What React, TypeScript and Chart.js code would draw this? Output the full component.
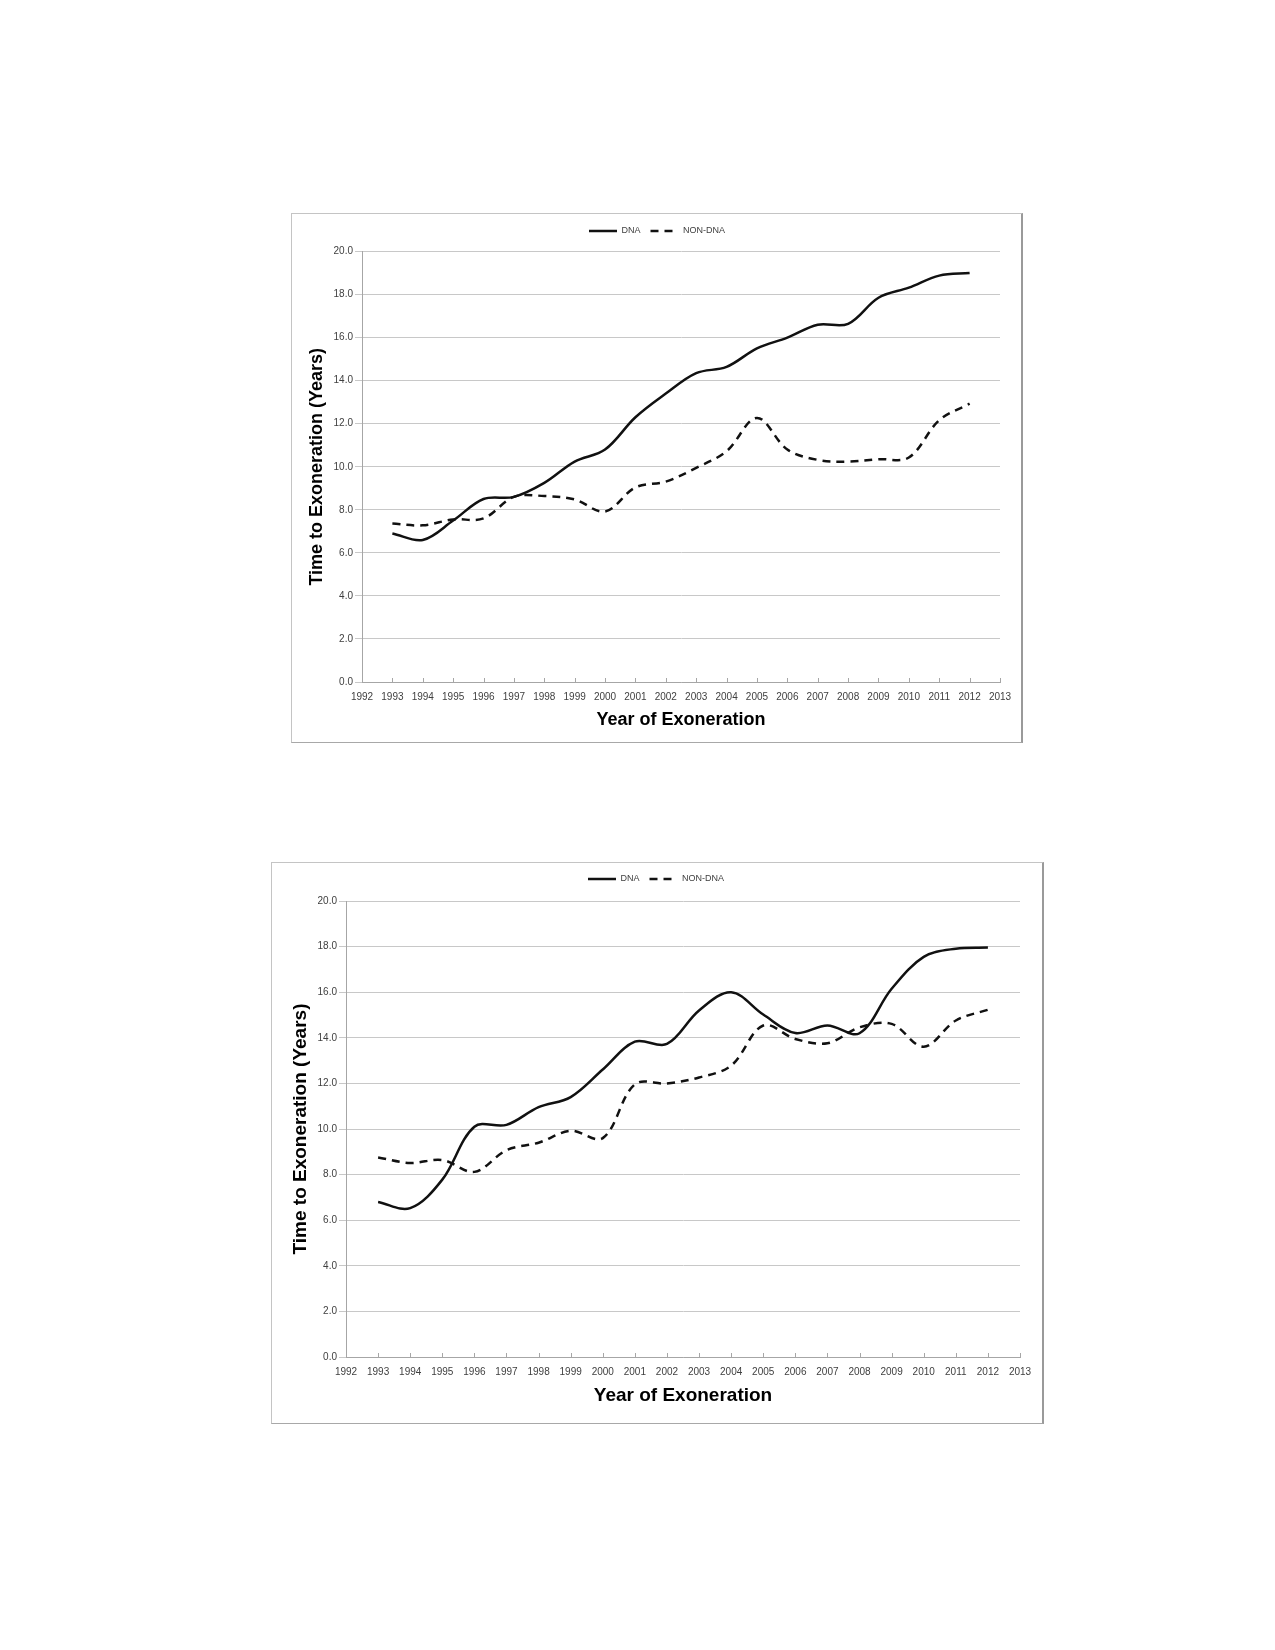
import { useEffect, useRef } from "react";
import { Chart, registerables } from "chart.js";

Chart.register(...registerables);

// years with a value, and the x-axis range
const YEARS = [1993, 1994, 1995, 1996, 1997, 1998, 1999, 2000, 2001, 2002, 2003, 2004, 2005, 2006, 2007, 2008, 2009, 2010, 2011, 2012];
const X_MIN = 1992;
const X_MAX = 2013;

// top chart
const DNA_TOP = [6.9, 6.6, 7.5, 8.5, 8.6, 9.25, 10.24, 10.8, 12.3, 13.4, 14.35, 14.64, 15.5, 16.0, 16.6, 16.64, 17.85, 18.32, 18.88, 19.0];
const NON_DNA_TOP = [7.36, 7.28, 7.55, 7.6, 8.6, 8.64, 8.48, 7.92, 9.04, 9.31, 9.95, 10.72, 12.27, 10.8, 10.32, 10.24, 10.35, 10.43, 12.16, 12.93];

// bottom chart
const DNA_BOTTOM = [6.8, 6.53, 7.78, 10.1, 10.18, 10.96, 11.4, 12.61, 13.83, 13.73, 15.2, 16.0, 15.02, 14.21, 14.54, 14.2, 16.15, 17.55, 17.91, 17.96];
const NON_DNA_BOTTOM = [8.75, 8.51, 8.64, 8.12, 9.07, 9.4, 9.92, 9.6, 11.96, 12.0, 12.26, 12.78, 14.54, 13.95, 13.76, 14.46, 14.61, 13.61, 14.76, 15.23];

const SERIES_LABELS = ["DNA", "NON-DNA"];
const X_TITLE = "Year of Exoneration";
const Y_TITLE = "Time to Exoneration (Years)";

const FONT = "'Liberation Sans', Arial, sans-serif";

interface Frame {
  left: number;
  top: number;
  width: number;
  height: number;
  yAxisWidth: number;
  xAxisHeight: number;
  padTop: number;
  padRight: number;
  legendExtra: number;
  legendShift: number;
  yTitlePad: number;
  xTitlePad: number;
  titleSize: number;
}

interface LineChartProps {
  frame: Frame;
  dna: number[];
  nonDna: number[];
}

function LineChart({ frame, dna, nonDna }: LineChartProps) {
  const canvasRef = useRef<HTMLCanvasElement>(null);
  const chartRef = useRef<Chart | null>(null);

  useEffect(() => {
    if (!canvasRef.current) return;
    if (chartRef.current) chartRef.current.destroy();

    // extra room under the legend, and nudge it to where the original sits
    const legendTweak = {
      id: "legendTweak",
      beforeInit(chart: any) {
        if (!chart.legend) return;
        const fit = chart.legend.fit;
        chart.legend.fit = function () {
          fit.call(this);
          this.height += frame.legendExtra;
        };
      },
      afterLayout(chart: any) {
        if (!chart.legend) return;
        chart.legend.left += frame.legendShift;
        chart.legend.right += frame.legendShift;
      },
    };

    // small inward tick marks on the x axis, like the original
    const innerTicks = {
      id: "innerTicks",
      afterDraw(chart: any) {
        const xs = chart.scales.x;
        const ctx = chart.ctx;
        ctx.save();
        ctx.strokeStyle = "#a6a6a6";
        ctx.lineWidth = 1;
        xs.ticks.forEach((t: any) => {
          const px = Math.round(xs.getPixelForValue(t.value)) + 0.5;
          ctx.beginPath();
          ctx.moveTo(px, xs.top);
          ctx.lineTo(px, xs.top - 4);
          ctx.stroke();
        });
        ctx.restore();
      },
    };

    chartRef.current = new Chart(canvasRef.current, {
      type: "line",
      data: {
        datasets: [
          {
            label: SERIES_LABELS[0],
            data: YEARS.map((yr, i) => ({ x: yr, y: dna[i] })),
            borderColor: "#111111",
            borderWidth: 2.5,
            pointRadius: 0,
            tension: 0.35,
            fill: false,
          },
          {
            label: SERIES_LABELS[1],
            data: YEARS.map((yr, i) => ({ x: yr, y: nonDna[i] })),
            borderColor: "#111111",
            borderWidth: 2.5,
            borderDash: [8, 6],
            pointRadius: 0,
            tension: 0.35,
            fill: false,
          },
        ],
      },
      options: {
        animation: false,
        responsive: false,
        maintainAspectRatio: false,
        layout: {
          padding: { top: frame.padTop, right: frame.padRight, bottom: 0, left: 0 },
        },
        plugins: {
          legend: {
            display: true,
            position: "top",
            labels: {
              usePointStyle: true,
              pointStyle: "line",
              pointStyleWidth: 28,
              padding: 10,
              color: "#404040",
              font: { family: FONT, size: 9 },
              generateLabels(chart: any) {
                return chart.data.datasets.map((ds: any, i: number) => ({
                  text: ds.label,
                  fillStyle: ds.borderColor,
                  strokeStyle: ds.borderColor,
                  lineWidth: ds.borderWidth,
                  lineDash: ds.borderDash || [],
                  pointStyle: "line",
                  fontColor: "#404040",
                  hidden: false,
                  datasetIndex: i,
                }));
              },
            },
          },
          tooltip: { enabled: false },
        },
        scales: {
          x: {
            type: "linear",
            min: X_MIN,
            max: X_MAX,
            afterFit(scale: any) {
              scale.height = frame.xAxisHeight;
            },
            ticks: {
              stepSize: 1,
              autoSkip: false,
              maxRotation: 0,
              padding: 1,
              color: "#404040",
              font: { family: FONT, size: 10 },
              callback: (v: any) => String(v),
            },
            grid: { display: false },
            border: { display: true, color: "#a6a6a6" },
            title: {
              display: true,
              text: X_TITLE,
              color: "#000000",
              font: { family: FONT, size: frame.titleSize, weight: "bold" },
              padding: { top: 0, bottom: frame.xTitlePad },
            },
          },
          y: {
            min: 0,
            max: 20,
            afterFit(scale: any) {
              scale.width = frame.yAxisWidth;
            },
            ticks: {
              stepSize: 2,
              padding: 2,
              color: "#404040",
              font: { family: FONT, size: 10 },
              callback: (v: any) => Number(v).toFixed(1),
            },
            grid: { color: "#c8c8c8", lineWidth: 1, tickLength: 7 },
            border: { display: true, color: "#a6a6a6" },
            title: {
              display: true,
              text: Y_TITLE,
              color: "#000000",
              font: { family: FONT, size: frame.titleSize, weight: "bold" },
              padding: { top: frame.yTitlePad, bottom: 0 },
            },
          },
        },
      },
      plugins: [legendTweak, innerTicks],
    });

    return () => {
      if (chartRef.current) {
        chartRef.current.destroy();
        chartRef.current = null;
      }
    };
  }, [frame, dna, nonDna]);

  return (
    <div
      style={{
        position: "absolute",
        left: frame.left,
        top: frame.top,
        width: frame.width,
        height: frame.height,
        boxSizing: "border-box",
        borderTop: "1px solid #c4c4c4",
        borderLeft: "1px solid #c4c4c4",
        borderBottom: "1px solid #a8a8a8",
        borderRight: "2px solid #9a9a9a",
        background: "#ffffff",
      }}
    >
      <canvas ref={canvasRef} width={frame.width - 3} height={frame.height - 2} style={{ display: "block" }}></canvas>
    </div>
  );
}

const TOP_FRAME: Frame = {
  left: 291,
  top: 213,
  width: 732,
  height: 530,
  yAxisWidth: 70,
  xAxisHeight: 60,
  padTop: 2.5,
  padRight: 21,
  legendExtra: 6,
  legendShift: 11,
  yTitlePad: 14,
  xTitlePad: 11,
  titleSize: 18,
};

const BOTTOM_FRAME: Frame = {
  left: 271,
  top: 862,
  width: 773,
  height: 562,
  yAxisWidth: 74,
  xAxisHeight: 66,
  padTop: 1.5,
  padRight: 22,
  legendExtra: 7.5,
  legendShift: 10,
  yTitlePad: 17,
  xTitlePad: 16,
  titleSize: 19,
};

export default function App() {
  return (
    <div style={{ position: "absolute", left: 0, top: 0, width: 1275, height: 1650, background: "#ffffff" }}>
      <LineChart frame={TOP_FRAME} dna={DNA_TOP} nonDna={NON_DNA_TOP} />
      <LineChart frame={BOTTOM_FRAME} dna={DNA_BOTTOM} nonDna={NON_DNA_BOTTOM} />
    </div>
  );
}
